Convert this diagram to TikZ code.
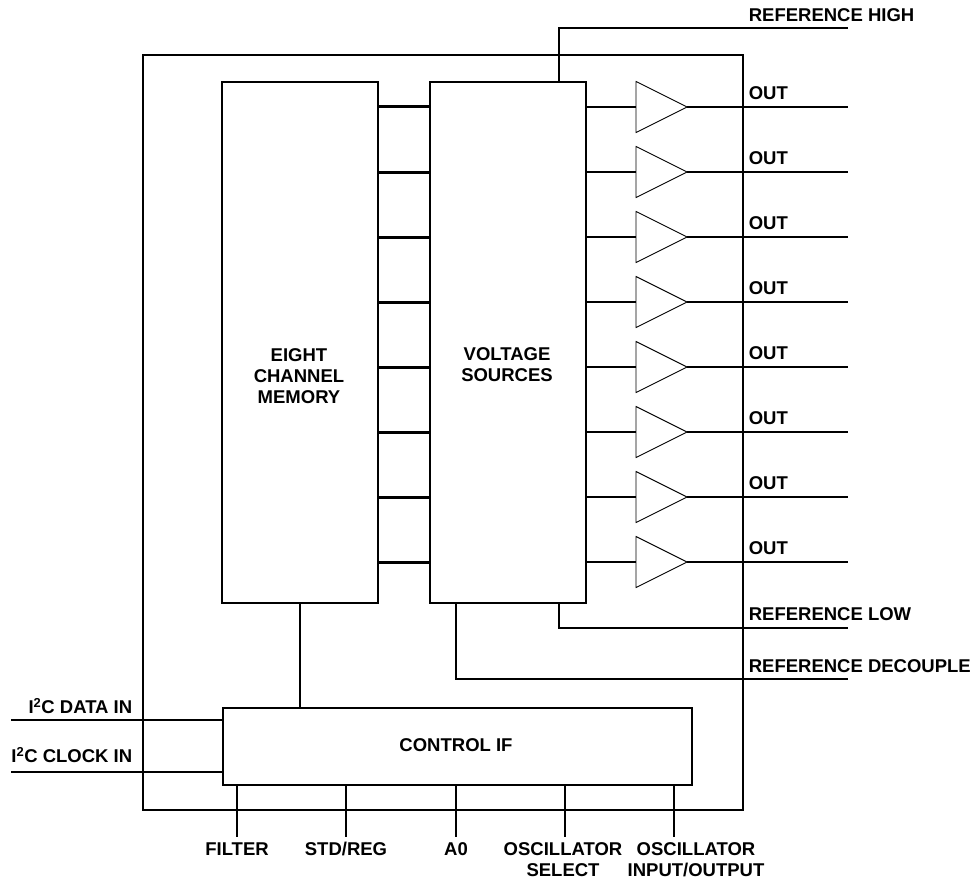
\documentclass[tikz,border=0pt]{standalone}
\usepackage{fontspec}
\setmainfont{Liberation Sans}
\usetikzlibrary{positioning}

\begin{document}
\begin{tikzpicture}
      [x=1pt,y=-1pt,line width=1.6pt,
       every node/.style={font=\fontsize{18.5}{21}\selectfont\bfseries,inner sep=0pt},
       block/.style={draw,line width=1.6pt,anchor=north west},
       bus/.style={line width=3pt},
       buffer/.style={line width=0.9pt}]
    \useasboundingbox (0,0) rectangle (973,880);
    % outer package frame
    \draw (143,55) rectangle (743,810);

    \node[block,minimum width=156pt,minimum height=521pt] (mem) at (221,81) {};
    \node[block,minimum width=156pt,minimum height=521pt] (vs)  at (429,81) {};
    \node[block,minimum width=469pt,minimum height=77pt]  (ctl) at (222,707) {};

    \node[align=center] (memtxt) at (299,376) {EIGHT\\CHANNEL\\MEMORY};
    \node[align=center] (vstxt)  at (507,365) {VOLTAGE\\SOURCES};
    \node (ctltxt) at (456,745) {CONTROL IF};

    % channels
    \foreach \i/\y in {1/107,2/172,3/237,4/302,5/367,6/432,7/497,8/562} {
      \coordinate (bin\i)  at (636,\y);
      \coordinate (bout\i) at (687,\y);
      \coordinate (out\i)  at (848,\y);
      \draw[bus] (mem.east |- bin\i) -- (vs.west |- bin\i);
      \draw[buffer] (636,\y-25.5) -- (bout\i) -- (636,\y+25.5) -- cycle;
      \draw (vs.east |- bin\i) -- (bin\i);
      \draw (bout\i) -- (out\i);
      \node[anchor=west] (outlbl\i) at (748,\y-14) {OUT};
    }

    % references
    \coordinate (refh) at (848,28);
    \coordinate (refl) at (848,628);
    \coordinate (refd) at (848,679);
    \draw (vs.north -| 559,0) |- (refh);
    \draw (vs.south -| 559,0) |- (refl);
    \draw (vs.south -| 456,0) |- (refd);
    \node[anchor=west] (refhlbl) at (748,15)  {REFERENCE HIGH};
    \node[anchor=west] (refllbl) at (748,614) {REFERENCE LOW};
    \node[anchor=west] (refdlbl) at (748,666) {REFERENCE DECOUPLE};

    \draw (mem.south -| 300,0) -- (ctl.north -| 300,0);

    % serial inputs
    \coordinate (sda) at (11,720);
    \coordinate (scl) at (11,772);
    \draw (sda) -- (ctl.west |- sda);
    \draw (scl) -- (ctl.west |- scl);
    \node[anchor=east] (sdalbl) at (133,706) {I\textsuperscript{2}C DATA IN};
    \node[anchor=east] (scllbl) at (133,755) {I\textsuperscript{2}C CLOCK IN};

    % bottom pins
    \foreach \n/\x in {filt/237,std/346,adr/456,osel/565,osio/674} {
      \coordinate (\n) at (\x,837);
      \draw (ctl.south -| \n) -- (\n);
    }
    \node (filtlbl) at (237,849) {FILTER};
    \node (stdlbl)  at (346,849) {STD/REG};
    \node (adrlbl)  at (456,849) {A0};
    \node[align=center] (osellbl) at (563,859.5) {OSCILLATOR\\SELECT};
    \node[align=center] (osiolbl) at (696,859.5) {OSCILLATOR\\INPUT/OUTPUT};
\end{tikzpicture}
\end{document}
